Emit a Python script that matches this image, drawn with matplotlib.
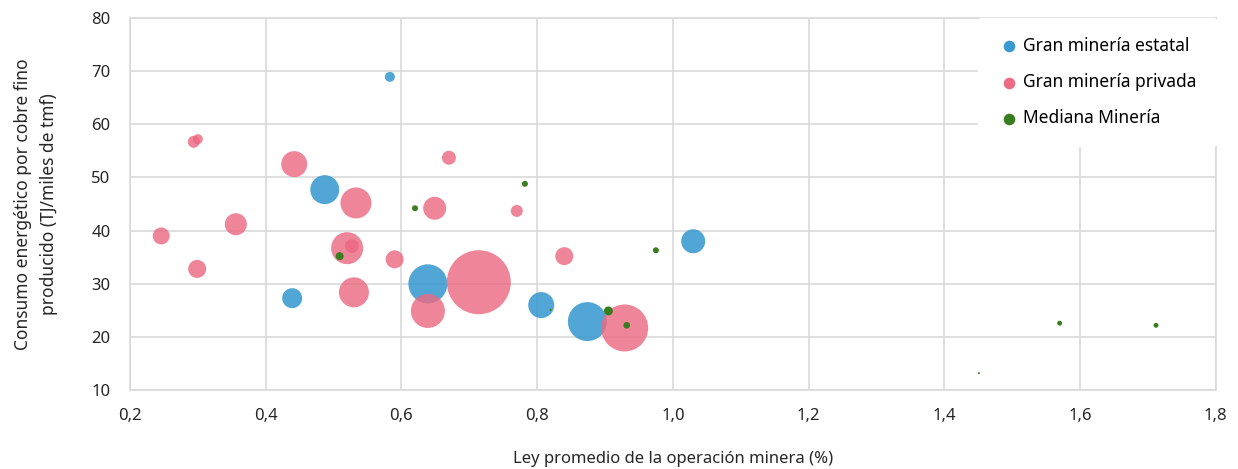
import matplotlib.pyplot as plt
from matplotlib.ticker import FuncFormatter

# Datos: ley (%), consumo (TJ/miles de tmf), tamano relativo de burbuja
estatal_ley = [0.583, 0.487, 1.030, 0.639, 0.439, 0.806, 0.874]
estatal_consumo = [68.9, 47.7, 38.0, 30.0, 27.3, 26.0, 22.9]
estatal_tam = [25, 210, 144, 380, 100, 169, 380]

privada_ley = [0.294, 0.300, 0.442, 0.533, 0.356, 0.246, 0.520, 0.527, 0.299,
               0.590, 0.530, 0.670, 0.649, 0.770, 0.840, 0.714, 0.639, 0.929]
privada_consumo = [56.7, 57.2, 52.5, 45.2, 41.2, 39.0, 36.7, 37.1, 32.8,
                   34.6, 28.4, 53.7, 44.2, 43.7, 35.2, 30.3, 24.9, 21.7]
privada_tam = [36, 25, 169, 240, 121, 72, 256, 49, 81,
               81, 225, 49, 132, 36, 81, 1024, 289, 552]

mediana_ley = [0.620, 0.509, 0.782, 0.975, 0.820, 0.905, 0.932, 1.570, 1.712, 1.451]
mediana_consumo = [44.2, 35.2, 48.8, 36.3, 25.1, 24.9, 22.2, 22.6, 22.2, 13.2]
mediana_tam = [9, 16, 9, 9, 1, 20, 11, 6, 6, 1]

x_ticks = [0.2, 0.4, 0.6, 0.8, 1.0, 1.2, 1.4, 1.6, 1.8]
y_ticks = [10, 20, 30, 40, 50, 60, 70, 80]

plt.rcParams['font.family'] = ['Noto Sans', 'DejaVu Sans']

# radio en pixeles -> area en puntos^2 (1 px = 0.72 pt a 100 dpi)
escala = (2 * 0.72) ** 2


def tam(valores):
    return [v * escala for v in valores]


fig = plt.figure(figsize=(12.38, 4.69), dpi=100)
ax = fig.add_axes([0.105, 0.168, 0.877, 0.794])

ax.scatter(estatal_ley, estatal_consumo, s=tam(estatal_tam), color='#3A9AD0',
           alpha=0.88, linewidths=0, label='Gran minería estatal', zorder=3)
ax.scatter(privada_ley, privada_consumo, s=tam(privada_tam), color='#EC6A82',
           alpha=0.82, linewidths=0, label='Gran minería privada', zorder=3)
ax.scatter(mediana_ley, mediana_consumo, s=tam(mediana_tam), color='#3A7D1E',
           alpha=1.0, linewidths=0, label='Mediana Minería', zorder=4)

ax.set_xlim(0.2, 1.8)
ax.set_ylim(10, 80)
ax.set_xticks(x_ticks)
ax.set_yticks(y_ticks)
ax.xaxis.set_major_formatter(FuncFormatter(lambda v, p: f'{v:.1f}'.replace('.', ',')))
ax.tick_params(axis='x', length=0, labelsize=12, colors='#262626', pad=13)
ax.tick_params(axis='y', length=0, labelsize=12, colors='#262626', pad=14)

ax.grid(True, color='#D9D9D9', linewidth=1.2, zorder=0)
ax.set_axisbelow(True)
for s in ax.spines.values():
    s.set_color('#D9D9D9')
    s.set_linewidth(1.2)

ax.set_xlabel('Ley promedio de la operación minera (%)', fontsize=12, color='#262626', labelpad=19)
ax.set_ylabel('Consumo energético por cobre fino\nproducido (TJ/miles de tmf)', fontsize=12.5,
              color='#262626', labelpad=24, linespacing=1.6)

leg = ax.legend(loc='upper right', frameon=True, fontsize=12.5, borderaxespad=0,
                handletextpad=0.1, labelspacing=1.05, borderpad=1.1, handlelength=1.4,
                markerscale=1, scatterpoints=1)
leg.get_frame().set_facecolor('white')
leg.get_frame().set_edgecolor('white')
leg.get_frame().set_alpha(1)
for h in leg.legend_handles:
    h.set_sizes([70])
    h.set_alpha(1)

fig.savefig('out.png', dpi=100)
